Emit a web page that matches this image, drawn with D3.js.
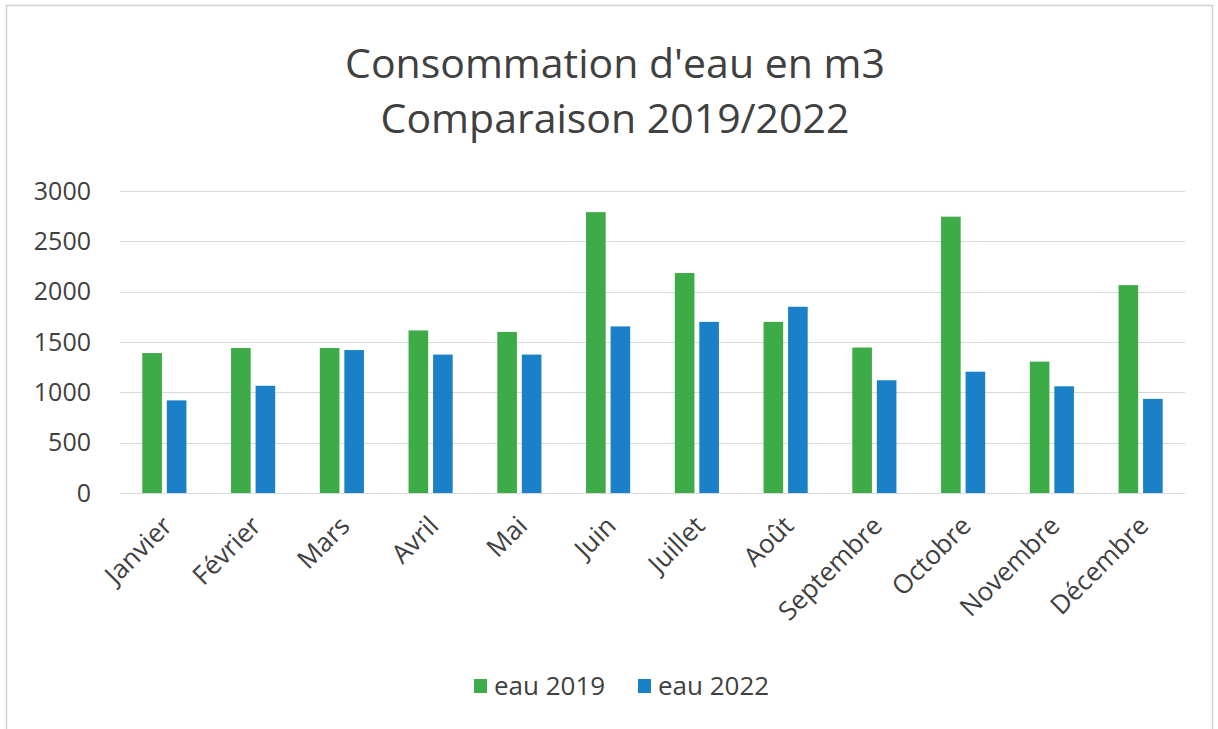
<!doctype html>
<html>
  <head>
    <meta charset='utf-8'>
    <title>Consommation d'eau</title>
    <style>
      body { margin: 0; background: #fff; }
      text { font-family: 'Open Sans', sans-serif; fill: #404040; }
    </style>
  </head>
  <body>
    <svg width='1218' height='729'></svg>

  <script src='https://d3js.org/d3.v7.min.js'></script>
  <script>
// Data
var months = ['Janvier', 'Février', 'Mars', 'Avril', 'Mai', 'Juin',
  'Juillet', 'Août', 'Septembre', 'Octobre', 'Novembre', 'Décembre'];
var eau2019 = [1390, 1440, 1440, 1615, 1600, 2790, 2185, 1700, 1445, 2745, 1305, 2065];
var eau2022 = [920, 1065, 1420, 1375, 1375, 1655, 1700, 1850, 1120, 1205, 1060, 935];
var seriesNames = ['eau 2019', 'eau 2022'];
var seriesColors = ['#3dab47', '#1a80c8'];
var yTicks = [0, 500, 1000, 1500, 2000, 2500, 3000];
var titleLines = ["Consommation d'eau en m3", 'Comparaison 2019/2022'];

var svg = d3.select('svg'),
  width = +svg.attr('width'),
  height = +svg.attr('height'),
  margin = {top: 191, right: 33, bottom: 236, left: 120};

// Frame of the scanned chart
svg.append('rect')
  .attr('x', 6.5).attr('y', 5.5)
  .attr('width', 1206).attr('height', 760)
  .attr('fill', 'none')
  .attr('stroke', '#d0d0d0')
  .attr('stroke-width', 1.5);

var x0 = d3.scaleBand()
  .domain(months)
  .range([margin.left, width - margin.right]);

var x1 = d3.scaleBand()
  .domain(seriesNames)
  .range([0, x0.bandwidth()])
  .paddingInner(0.2)
  .paddingOuter(0.91);

var y = d3.scaleLinear()
  .domain([0, 3000])
  .range([height - margin.bottom, margin.top]);

// Gridlines
svg.append('g')
  .selectAll('line')
  .data(yTicks)
  .join('line')
  .attr('x1', margin.left)
  .attr('x2', width - margin.right)
  .attr('y1', function(d) { return Math.round(y(d)) + 0.5; })
  .attr('y2', function(d) { return Math.round(y(d)) + 0.5; })
  .attr('stroke', '#d9d9d9')
  .attr('stroke-width', 1);

// Y axis labels
var yAxis = svg.append('g')
  .attr('transform', 'translate(' + (margin.left - 29) + ',0)')
  .call(d3.axisLeft(y).tickValues(yTicks).tickFormat(d3.format('d')).tickSize(0).tickPadding(0));
yAxis.select('.domain').remove();
yAxis.selectAll('text')
  .attr('font-size', 25)
  .attr('font-family', "'Open Sans', sans-serif")
  .attr('fill', '#404040');

// Bars
var rows = months.map(function(m, i) {
  return {month: m, values: [eau2019[i], eau2022[i]]};
});

svg.append('g')
  .selectAll('g')
  .data(rows)
  .join('g')
  .attr('transform', function(d) { return 'translate(' + x0(d.month) + ',0)'; })
  .selectAll('rect')
  .data(function(d) {
    return d.values.map(function(v, j) { return {key: seriesNames[j], value: v, color: seriesColors[j]}; });
  })
  .join('rect')
  .attr('x', function(d) { return x1(d.key); })
  .attr('width', x1.bandwidth())
  .attr('y', function(d) { return y(d.value); })
  .attr('height', function(d) { return y(0) - y(d.value); })
  .attr('fill', function(d) { return d.color; });

// X axis labels, rotated
var xAxis = svg.append('g')
  .attr('transform', 'translate(0,' + (y(0) + 28) + ')')
  .call(d3.axisBottom(x0).tickSize(0).tickPadding(0));
xAxis.select('.domain').remove();
xAxis.selectAll('text')
  .attr('font-size', 26)
  .attr('font-family', "'Open Sans', sans-serif")
  .attr('fill', '#404040')
  .attr('text-anchor', 'end')
  .attr('dy', '0.35em')
  .attr('transform', 'translate(3,0) rotate(-45)');

// Title
svg.append('g')
  .selectAll('text')
  .data(titleLines)
  .join('text')
  .attr('x', 615)
  .attr('y', function(d, i) { return 78 + i * 55; })
  .attr('text-anchor', 'middle')
  .attr('font-size', 41)
  .text(function(d) { return d; });

// Legend
var legend = svg.append('g')
  .selectAll('g')
  .data(seriesNames)
  .join('g')
  .attr('transform', function(d, i) { return 'translate(' + (474 + i * 164) + ',679)'; });
legend.append('rect')
  .attr('width', 13).attr('height', 14)
  .attr('fill', function(d, i) { return seriesColors[i]; });
legend.append('text')
  .attr('x', 20).attr('y', 16)
  .attr('font-size', 26)
  .text(function(d) { return d; });
  </script>
  </body>
</html>
